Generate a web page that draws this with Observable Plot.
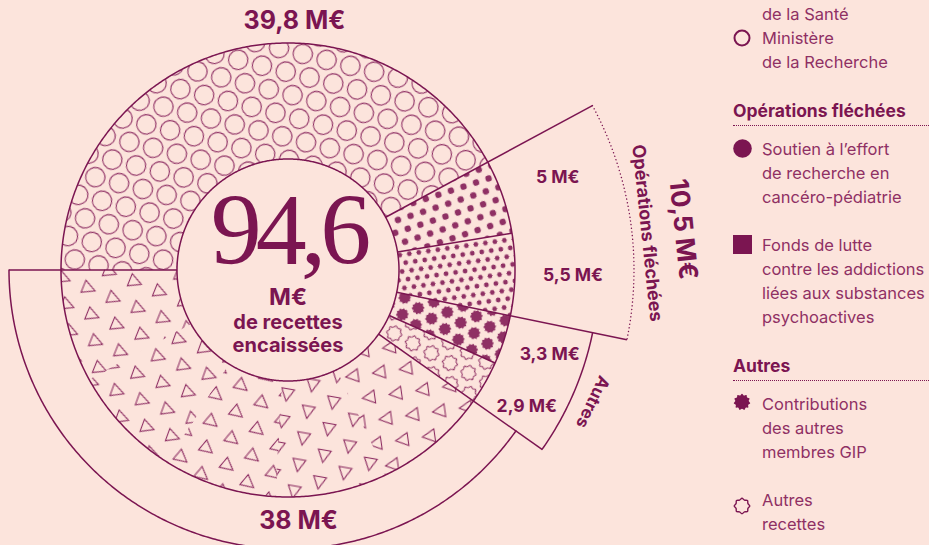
<!DOCTYPE html>
<html><head><meta charset="utf-8">
<script src="https://cdn.jsdelivr.net/npm/d3@7"></script>
<script src="https://cdn.jsdelivr.net/npm/@observablehq/plot@0.6"></script>
<style>
html,body{margin:0;padding:0;background:#fce4dc;}
#wrap{position:relative;width:929px;height:545px;overflow:hidden;background:#fce4dc;}
#chart{position:absolute;left:0;top:0;}
#legend{position:absolute;left:733px;top:2px;width:196px;font:16.5px/24px Inter,sans-serif;color:#8f3064;}
.item{position:relative;padding-left:29px;margin-bottom:24px;white-space:nowrap;}
.g0 .item{margin-bottom:0;}
.head{font-weight:700;color:#7b1551;font-size:17.5px;line-height:24px;padding-bottom:2px;border-bottom:1.6px dotted #7b1551;margin:25px 0 11px 0;}
.icon{position:absolute;left:0;top:3px;}
</style></head>
<body><div id="wrap"><div id="chart"></div><div id="legend"></div></div>
<script>
// ---------- DATA ----------
const categories = ["Ministère de la Recherche", "Soutien à l’effort de recherche en cancéro-pédiatrie", "Fonds de lutte contre les addictions liées aux substances psychoactives", "Contributions des autres membres GIP", "Autres recettes", "Ministère de la Santé"];
const values = [39.8, 5, 5.5, 3.3, 2.9, 38];
const valueLabels = ["39,8 M€", "5 M€", "5,5 M€", "3,3 M€", "2,9 M€", "38 M€"];
const sliceGroups = [null, "Opérations fléchées", "Opérations fléchées", "Autres", "Autres", "Ministère de la Santé"];
const groupNames = ["Opérations fléchées", "Autres"];
const groupTotals = ["10,5 M€", ""];
const totalLabel = "94,6";
const centerLines = ["M€", "de recettes\nencaissées"];
const legendGroups = [
  {head: null, items: [{icon: null, lines: ["de la Santé"]}, {icon: "circ", lines: ["Ministère", "de la Recherche"]}]},
  {head: "Opérations fléchées", items: [{icon: "dot", lines: ["Soutien à l’effort", "de recherche en", "cancéro-pédiatrie"]}, {icon: "sq", lines: ["Fonds de lutte", "contre les addictions", "liées aux substances", "psychoactives"]}]},
  {head: "Autres", items: [{icon: "gear", lines: ["Contributions", "des autres", "membres GIP"]}, {icon: "gearO", lines: ["Autres", "recettes"]}]}
];

// ---------- LAYOUT / STYLE ----------
const C = "#7b1551", C2 = "#8f3064";
const FONT = "Inter";
const W = 731, H = 545, CX = 287.5, CY = 269.5;
const R_IN = 111, R_OUT = 227;
const groupOuter = {"Opérations fléchées": 346, "Autres": 311, "Ministère de la Santé": 279};
const sliceLabelR = {"Opérations fléchées": 285, "Autres": 275};
const patterns = ["pCircles", "pDots", "pSmall", "pGear", "pGearO", "pTri"];
const triRot = [172, 100, 40, 20, 22];
const deg = Math.PI / 180;

const pol = (a, r) => ({x: r * Math.sin(a), y: r * Math.cos(a)});
function arc(a0, a1, r) {
  const n = Math.max(2, Math.ceil(Math.abs(a1 - a0) / (0.5 * deg)));
  return d3.range(n + 1).map(i => pol(a0 + (a1 - a0) * i / n, r));
}
const sector = (a0, a1, r0, r1) => [...arc(a0, a1, r1), ...arc(a1, a0, r0)];

const pie = d3.pie().sort(null).startAngle(-Math.PI / 2).endAngle(1.5 * Math.PI)(values);

// fill polygons
const fills = [];
pie.forEach((p, i) => {
  if (patterns[i] === "pTri") {
    const k = triRot.length;
    for (let j = 0; j < k; j++) {
      const a0 = p.startAngle + (p.endAngle - p.startAngle) * j / k;
      const a1 = p.startAngle + (p.endAngle - p.startAngle) * (j + 1) / k;
      fills.push({pts: sector(a0 - 0.002, a1 + 0.002, R_IN, R_OUT), pat: "pTri" + j});
    }
  } else fills.push({pts: sector(p.startAngle, p.endAngle, R_IN, R_OUT), pat: patterns[i]});
});

// radial boundaries
const radials = pie.map((p, i) => {
  const prev = (i + pie.length - 1) % pie.length;
  const g = sliceGroups[i], gp = sliceGroups[prev];
  let r = R_OUT;
  if (g !== gp) r = Math.max(groupOuter[g] || R_OUT, groupOuter[gp] || R_OUT);
  const a = pol(p.startAngle, R_IN), b = pol(p.startAngle, r);
  return {x1: a.x, y1: a.y, x2: b.x, y2: b.y};
});

// group extents
const groupExt = {};
pie.forEach((p, i) => {
  const g = sliceGroups[i]; if (!g) return;
  if (!groupExt[g]) groupExt[g] = {a0: p.startAngle, a1: p.endAngle};
  else groupExt[g].a1 = p.endAngle;
});

const marks = [];
fills.forEach(f => marks.push(Plot.line(f.pts, {x: "x", y: "y", fill: `url(#${f.pat})`, stroke: "none"})));
marks.push(Plot.line(arc(0, 2 * Math.PI, R_IN), {x: "x", y: "y", stroke: C, strokeWidth: 1.5}));
marks.push(Plot.line(arc(0, 2 * Math.PI, R_OUT), {x: "x", y: "y", stroke: C, strokeWidth: 1.5}));
marks.push(Plot.link(radials, {x1: "x1", y1: "y1", x2: "x2", y2: "y2", stroke: C, strokeWidth: 1.5}));
Object.entries(groupExt).forEach(([g, e]) => {
  const dotted = g === "Opérations fléchées";
  marks.push(Plot.line(arc(e.a0, e.a1, groupOuter[g]), {x: "x", y: "y", stroke: C,
    strokeWidth: dotted ? 1.4 : 1.5, strokeDasharray: dotted ? "0.1,3.6" : null, strokeLinecap: "round"}));
});

// slice labels
const bigLabels = [{i: 0, a: 1.5 * deg, r: 249}, {i: 5, a: 177.6 * deg, r: 251}].map(d => ({...pol(d.a, d.r), t: valueLabels[d.i]}));
marks.push(Plot.text(bigLabels, {x: "x", y: "y", text: "t", fill: C, fontSize: 25, fontWeight: 700, fontFamily: FONT}));
const smallLabels = pie.map((p, i) => ({p, i})).filter(d => sliceGroups[d.i] && sliceLabelR[sliceGroups[d.i]])
  .map(({p, i}) => ({...pol((p.startAngle + p.endAngle) / 2, sliceLabelR[sliceGroups[i]]), t: valueLabels[i]}));
marks.push(Plot.text(smallLabels, {x: "x", y: "y", text: "t", fill: C, fontSize: 17.5, fontWeight: 700, fontFamily: FONT}));

// group labels
const gl = groupNames.map((g, k) => {
  const e = groupExt[g]; const mid = (e.a0 + e.a1) / 2 + (k === 0 ? 2.5 * deg : 0);
  return {g, tot: groupTotals[k], mid};
});
marks.push(Plot.text(gl.filter(d => d.tot), {x: d => pol(d.mid, 397).x, y: d => pol(d.mid, 397).y, text: "tot",
  rotate: d => d.mid / deg, fill: C, fontSize: 26, fontWeight: 700, fontFamily: FONT}));
marks.push(Plot.text(gl, {x: d => pol(d.mid, d.tot ? 361 : 332).x, y: d => pol(d.mid, d.tot ? 361 : 332).y, text: "g",
  rotate: d => d.mid / deg + (d.tot ? 0 : 2), fill: C, fontSize: d => d.tot ? 18 : 17, fontWeight: 700, fontFamily: FONT}));

// center
marks.push(Plot.text([totalLabel], {x: () => 0, y: () => 0, text: d => d, dy: -39, fill: C, fontSize: 102, fontFamily: "Liberation Serif"}));
marks.push(Plot.text([centerLines[0]], {x: () => 0, y: () => 0, text: d => d, dy: 27, fill: C, fontSize: 23.5, fontWeight: 700, fontFamily: FONT}));
marks.push(Plot.text([centerLines[1]], {x: () => 0, y: () => 0, text: d => d, dy: 63, lineHeight: 1.17, fill: C, fontSize: 20, fontWeight: 700, fontFamily: FONT}));

const svg = Plot.plot({
  width: W, height: H, margin: 0,
  x: {domain: [-CX, W - CX], axis: null},
  y: {domain: [-(H - CY), CY], axis: null},
  style: {background: "transparent", overflow: "visible"},
  marks
});

// ---------- patterns ----------
function gearPath(r, n, depth, smooth) {
  const pts = d3.range(2 * n).map(i => [i * Math.PI / n, i % 2 ? r * (1 - depth) : r]);
  return d3.lineRadial().curve(smooth ? d3.curveCardinalClosed : d3.curveLinearClosed)(pts);
}
function hexPattern(id, w, shape, rot) {
  const h = w * Math.sqrt(3);
  const pos = [[0, 0], [w, 0], [0, h], [w, h], [w / 2, h / 2]];
  return `<pattern id="${id}" patternUnits="userSpaceOnUse" width="${w}" height="${h.toFixed(3)}" patternTransform="rotate(${rot})">${pos.map(([x, y]) => shape(x, y)).join("")}</pattern>`;
}
const smallG = gearPath(2.9, 8, 0.3, false), gearF = gearPath(6.4, 10, 0.18, true), gearO = gearPath(7.8, 8, 0.2, true);
let defs = "";
defs += hexPattern("pCircles", 24.5, (x, y) => `<circle cx="${x}" cy="${y}" r="9.7" fill="none" stroke="${C2}" stroke-width="1.1"/>`, 14);
defs += hexPattern("pDots", 13.2, (x, y) => `<circle cx="${x}" cy="${y}" r="3.2" fill="${C2}"/>`, -18);
defs += hexPattern("pSmall", 9.6, (x, y) => `<path transform="translate(${x},${y})" d="${smallG}" fill="${C2}"/>`, -8);
defs += hexPattern("pGear", 17, (x, y) => `<path transform="translate(${x},${y})" d="${gearF}" fill="${C2}"/>`, -22);
defs += hexPattern("pGearO", 21, (x, y) => `<path transform="translate(${x},${y})" d="${gearO}" fill="none" stroke="${C2}" stroke-width="1"/>`, -32);
triRot.forEach((rot, j) => {
  defs += hexPattern("pTri" + j, 27, (x, y) => `<path transform="translate(${x},${y})" d="M-5,-6.5L7.5,0L-5,6.5Z" fill="none" stroke="${C2}" stroke-width="1.1"/>`, rot);
});
d3.select(svg).insert("defs", ":first-child").html(defs);
d3.select(svg).selectAll("text").filter(function () { return this.textContent === totalLabel; }).attr("letter-spacing", "-6");
document.getElementById("chart").appendChild(svg);

// ---------- legend ----------
const iconSvg = {
  circ: `<svg width="18" height="18" viewBox="-9 -9 18 18"><circle r="7.5" fill="none" stroke="${C}" stroke-width="2"/></svg>`,
  dot: `<svg width="19" height="19" viewBox="-9.5 -9.5 19 19"><circle r="9.3" fill="${C}"/></svg>`,
  sq: `<svg width="19" height="19" viewBox="0 0 19 19"><rect width="19" height="19" fill="${C}"/></svg>`,
  gear: `<svg width="18" height="18" viewBox="-9 -9 18 18"><path d="${gearPath(8.3, 11, 0.18, true)}" fill="${C}"/></svg>`,
  gearO: `<svg width="18" height="18" viewBox="-9 -9 18 18"><path d="${gearPath(7.8, 8, 0.18, true)}" fill="none" stroke="${C}" stroke-width="1.4"/></svg>`
};
const iconTop = {circ: 3, dot: 2, sq: 2, gear: 1, gearO: 9};
const lg = d3.select("#legend");
legendGroups.forEach((g, k) => {
  const gd = lg.append("div").attr("class", "g" + k);
  if (g.head) gd.append("div").attr("class", "head").text(g.head);
  g.items.forEach(it => {
    const d = gd.append("div").attr("class", "item");
    if (it.icon) d.append("div").attr("class", "icon").style("top", iconTop[it.icon] + "px").html(iconSvg[it.icon]);
    it.lines.forEach(l => d.append("div").text(l));
  });
});
</script></body></html>
